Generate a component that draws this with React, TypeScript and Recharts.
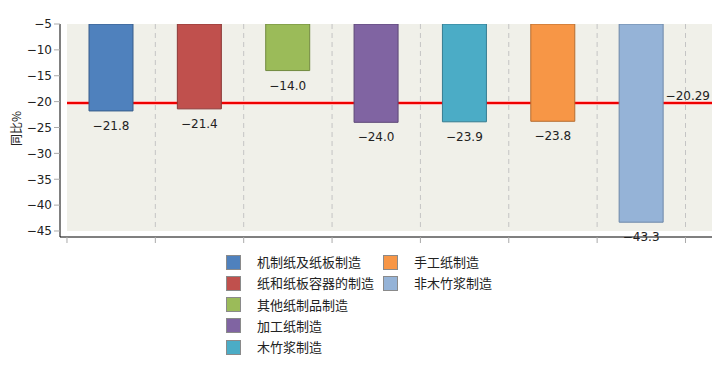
import React from "react";
import {
  Bar,
  BarChart,
  CartesianGrid,
  Cell,
  LabelList,
  ReferenceLine,
  XAxis,
  YAxis,
} from "recharts";

const categories = [
  "机制纸及纸板制造",
  "纸和纸板容器的制造",
  "其他纸制品制造",
  "加工纸制造",
  "木竹浆制造",
  "手工纸制造",
  "非木竹浆制造",
];
const values = [-21.8, -21.4, -14.0, -24.0, -23.9, -23.8, -43.3];
const fills = ["#4f81bd", "#c0504d", "#9bbb59", "#8064a2", "#4bacc6", "#f79646", "#95b3d7"];
const strokes = ["#385d8a", "#8c3836", "#71893f", "#5c4776", "#357d91", "#b66d31", "#6d87a8"];
const yTicks = [-5, -10, -15, -20, -25, -30, -35, -40, -45];
const average = -20.29;
const boundaries = [0, 1, 2, 3, 4, 5, 6, 7];

const data = categories.map((name, i) => ({ name, value: values[i] }));

// numeric axis used for the band boundaries (grid + tick marks)
const N_MIN = -0.079;
const N_MAX = 7.3;
const Y_DOMAIN = [-46.16, -5];

const FONT = "'DejaVu Sans', sans-serif";
const minus = (s: string) => s.replace("-", "−");

// the average line lives in the grid so that it stays behind the bars
const avgLine = ({ yAxis, offset }: any) => {
  if (yAxis && typeof yAxis.scale === "function") return [yAxis.scale(average)];
  const [lo, hi] = Y_DOMAIN;
  return [offset.top + ((hi - average) / (hi - lo)) * offset.height];
};

function ValueLabel(props: any) {
  const { x, y, width, height, value } = props;
  const bottom = Math.max(y, y + height);
  return (
    <text x={x + width / 2} y={bottom + 19} textAnchor="middle" fontSize={12} fontFamily={FONT} fill="#222">
      {minus(Number(value).toFixed(1))}
    </text>
  );
}

function AvgLabel(props: any) {
  const { viewBox } = props;
  return (
    <text x={viewBox.x + viewBox.width - 2} y={viewBox.y - 3} textAnchor="end" fontSize={12} fontFamily={FONT} fill="#222">
      {minus(average.toFixed(2))}
    </text>
  );
}

function YLabel(props: any) {
  const { viewBox } = props;
  const cx = 15;
  const cy = viewBox.y + viewBox.height / 2 - 2;
  return (
    <text x={cx} y={cy} transform={`rotate(-90 ${cx} ${cy})`} textAnchor="middle" dominantBaseline="central" fontSize={12} fontFamily="'Noto Sans CJK SC', sans-serif" fill="#222">
      同比%
    </text>
  );
}

function LegendBox() {
  return (
    <div style={{ position: "absolute", left: 0, top: 0, width: 720, height: 365, pointerEvents: "none" }}>
      {categories.map((name, i) => {
        const col = i < 5 ? 0 : 1;
        const row = i < 5 ? i : i - 5;
        const left = col === 0 ? 226 : 383;
        const top = 255 + row * 21.3;
        return (
          <div key={name} style={{ position: "absolute", left, top, height: 14, display: "flex", alignItems: "center" }}>
            <div style={{ width: 13, height: 13, background: fills[i], border: "1px solid #8a8a8a" }} />
            <span style={{ marginLeft: 16, fontSize: 13, fontFamily: "'Noto Sans CJK SC', sans-serif", color: "#222", whiteSpace: "nowrap", lineHeight: "14px" }}>
              {name}
            </span>
          </div>
        );
      })}
    </div>
  );
}

export default function App() {
  return (
    <div style={{ margin: -8, position: "relative", width: 720, height: 365, background: "#fff" }}>
      <BarChart width={720} height={365} data={data} margin={{ top: 24, right: 8, bottom: 118, left: 0 }}>
        <CartesianGrid
          x={67}
          y={24}
          width={646}
          height={207}
          fill="#f0f0e9"
          vertical={false}
          horizontalCoordinatesGenerator={avgLine}
          stroke="#ffb4b4"
          strokeWidth={4}
        />
        <CartesianGrid
          x={67}
          y={24}
          width={646}
          height={207}
          vertical={false}
          horizontalCoordinatesGenerator={avgLine}
          stroke="#ee0000"
          strokeWidth={2}
        />
        <XAxis dataKey="name" hide height={0} padding={{ left: 7, right: 26.5 }} />
        <XAxis
          xAxisId="n"
          type="number"
          dataKey={() => 0}
          domain={[N_MIN, N_MAX]}
          allowDataOverflow
          ticks={boundaries}
          tickFormatter={() => ""}
          height={10}
          tickSize={6}
          tickLine={{ stroke: "#aaa" }}
          axisLine={{ stroke: "#000" }}
        />
        <YAxis
          type="number"
          width={60}
          domain={Y_DOMAIN}
          allowDataOverflow
          ticks={yTicks}
          interval={0}
          tickFormatter={(v: number) => minus(String(v))}
          tick={{ fill: "#222", fontSize: 12, fontFamily: FONT }}
          tickSize={6}
          tickLine={{ stroke: "#aaa" }}
          axisLine={{ stroke: "#000" }}
          label={<YLabel />}
        />
        {boundaries.slice(1).map((b) => (
          <ReferenceLine
            key={b}
            xAxisId="n"
            segment={[{ x: b, y: -5 }, { x: b, y: -45 }]}
            stroke="#c4c4c4"
            strokeDasharray="5 4"
            ifOverflow="visible"
          />
        ))}
        <ReferenceLine
          xAxisId="n"
          segment={[{ x: 0, y: average }, { x: N_MAX, y: average }]}
          stroke="none"
          ifOverflow="visible"
          label={<AvgLabel />}
        />
        <Bar dataKey="value" barSize={44} isAnimationActive={false}>
          {data.map((d, i) => (
            <Cell key={d.name} fill={fills[i]} stroke={strokes[i]} strokeWidth={1} />
          ))}
          <LabelList dataKey="value" content={<ValueLabel />} />
        </Bar>
      </BarChart>
      <LegendBox />
    </div>
  );
}
